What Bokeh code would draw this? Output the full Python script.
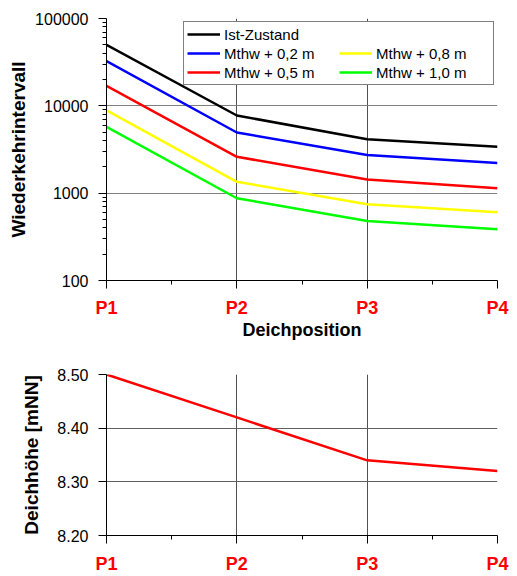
from bokeh.plotting import figure
from bokeh.models import Range1d, FixedTicker, PrintfTickFormatter, Legend, LegendItem, Grid
from bokeh.layouts import column
from bokeh.embed import file_html
from bokeh.resources import INLINE

# ---------------- data ----------------
positions = ["P1", "P2", "P3", "P4"]
ist_zustand = [50000, 7750, 4150, 3400]
mthw_02 = [32500, 4950, 2730, 2210]
mthw_05 = [16900, 2610, 1430, 1135]
mthw_08 = [8900, 1350, 745, 605]
mthw_10 = [5750, 875, 480, 386]
series_labels = ["Ist-Zustand", "Mthw + 0,2 m", "Mthw + 0,5 m", "Mthw + 0,8 m", "Mthw + 1,0 m"]
series_colors = ["#000000", "#0000ff", "#ff0000", "#ffff00", "#00ff00"]
deichhoehe = [8.50, 8.42, 8.34, 8.32]
y_ticks_top = [100, 1000, 10000, 100000]
y_ticks_bottom = [8.20, 8.30, 8.40, 8.50]

FONT = "Liberation Sans"
x = list(range(1, len(positions) + 1))
x_minor = [a + 0.5 for a in x[:-1]]
overrides = {xi: lab for xi, lab in zip(x, positions)}


def style_x(ax, standoff=10):
    ax.ticker = FixedTicker(ticks=x, minor_ticks=x_minor)
    ax.major_label_overrides = overrides
    ax.major_label_text_color = "#ff0000"
    ax.major_label_text_font = FONT
    ax.major_label_text_font_style = "bold"
    ax.major_label_text_font_size = "18px"
    ax.major_label_standoff = standoff
    ax.major_tick_out = 8
    ax.major_tick_in = 0
    ax.minor_tick_out = 4
    ax.minor_tick_in = 0
    ax.axis_line_color = "black"
    ax.major_tick_line_color = "black"
    ax.minor_tick_line_color = "black"


def style_y(ax, label, label_standoff):
    ax.axis_label = label
    ax.axis_label_text_font = FONT
    ax.axis_label_text_font_style = "bold"
    ax.axis_label_text_font_size = "19px"
    ax.axis_label_text_color = "black"
    ax.axis_label_standoff = label_standoff
    ax.major_label_text_font = FONT
    ax.major_label_text_font_size = "16px"
    ax.major_label_text_color = "black"
    ax.major_label_standoff = 10
    ax.major_tick_out = 8
    ax.major_tick_in = 0
    ax.axis_line_color = "black"
    ax.major_tick_line_color = "black"
    ax.minor_tick_line_color = "black"


# ---------------- top chart ----------------
top = figure(width=517, height=342, y_axis_type="log",
             x_range=Range1d(1, 4), y_range=Range1d(100, 100000),
             output_backend="svg", toolbar_location=None,
             min_border_left=103, min_border_right=20, min_border_top=18, min_border_bottom=62)
top.outline_line_color = None
top.background_fill_color = "white"

style_x(top.xaxis[0], standoff=9)
top.xaxis[0].axis_label = "Deichposition"
top.xaxis[0].axis_label_text_font = FONT
top.xaxis[0].axis_label_text_font_style = "bold"
top.xaxis[0].axis_label_text_font_size = "18px"
top.xaxis[0].axis_label_text_color = "black"
top.xaxis[0].axis_label_standoff = -1

yax = top.yaxis[0]
style_y(yax, "Wiederkehrintervall", 3)
yax.ticker = FixedTicker(ticks=y_ticks_top,
                         minor_ticks=[m * t for t in y_ticks_top[:-1] for m in range(2, 10)])
yax.formatter = PrintfTickFormatter(format="%d")
yax.minor_tick_out = 4
yax.minor_tick_in = 0

top.xgrid.ticker = FixedTicker(ticks=x[1:-1])
top.xgrid.grid_line_color = "#505050"
top.ygrid.ticker = FixedTicker(ticks=y_ticks_top[1:-1])
top.ygrid.grid_line_color = "#808080"
top.add_layout(Grid(dimension=0, ticker=FixedTicker(ticks=[x[-1]]), grid_line_color="black"))

renderers = []
for vals, c in zip([ist_zustand, mthw_02, mthw_05, mthw_08, mthw_10], series_colors):
    renderers.append(top.line(x, vals, line_color=c, line_width=2.5))
blank = top.line([], [], line_alpha=0)

items = [
    LegendItem(label=series_labels[0], renderers=[renderers[0]]),
    LegendItem(label=series_labels[1], renderers=[renderers[1]]),
    LegendItem(label=series_labels[2], renderers=[renderers[2]]),
    LegendItem(label=" ", renderers=[blank]),
    LegendItem(label=series_labels[3], renderers=[renderers[3]]),
    LegendItem(label=series_labels[4], renderers=[renderers[4]]),
]
legend = Legend(items=items, location="top_right", orientation="vertical", nrows=3,
                border_line_color="black", border_line_width=1,
                background_fill_color="white", background_fill_alpha=1.0,
                label_text_font=FONT, label_text_font_size="15px", label_text_color="black",
                glyph_width=33, glyph_height=18, label_height=18, label_width=114,
                label_standoff=4, spacing=1, padding=3, margin=3)
top.add_layout(legend)

# ---------------- bottom chart ----------------
bot = figure(width=517, height=234,
             x_range=Range1d(1, 4), y_range=Range1d(y_ticks_bottom[0], y_ticks_bottom[-1]),
             output_backend="svg", toolbar_location=None,
             min_border_left=106, min_border_right=16, min_border_top=32, min_border_bottom=38)
bot.outline_line_color = None
bot.background_fill_color = "white"

style_x(bot.xaxis[0], standoff=10)
yb = bot.yaxis[0]
style_y(yb, "Deichhöhe [mNN]", 12)
yb.ticker = FixedTicker(ticks=y_ticks_bottom)
yb.formatter = PrintfTickFormatter(format="%.2f")
yb.minor_tick_out = 0

bot.xgrid.ticker = FixedTicker(ticks=x[1:-1])
bot.xgrid.grid_line_color = "#505050"
bot.ygrid.ticker = FixedTicker(ticks=y_ticks_bottom[1:-1])
bot.ygrid.grid_line_color = "#606060"
bot.add_layout(Grid(dimension=0, ticker=FixedTicker(ticks=[x[-1]]), grid_line_color="black"))
bot.add_layout(Grid(dimension=1, ticker=FixedTicker(ticks=[y_ticks_bottom[-1]]), grid_line_color="black"))

bot.line(x, deichhoehe, line_color="#ff0000", line_width=2.5)

layout = column(top, bot)
open("out.html", "w").write(file_html(layout, INLINE))
